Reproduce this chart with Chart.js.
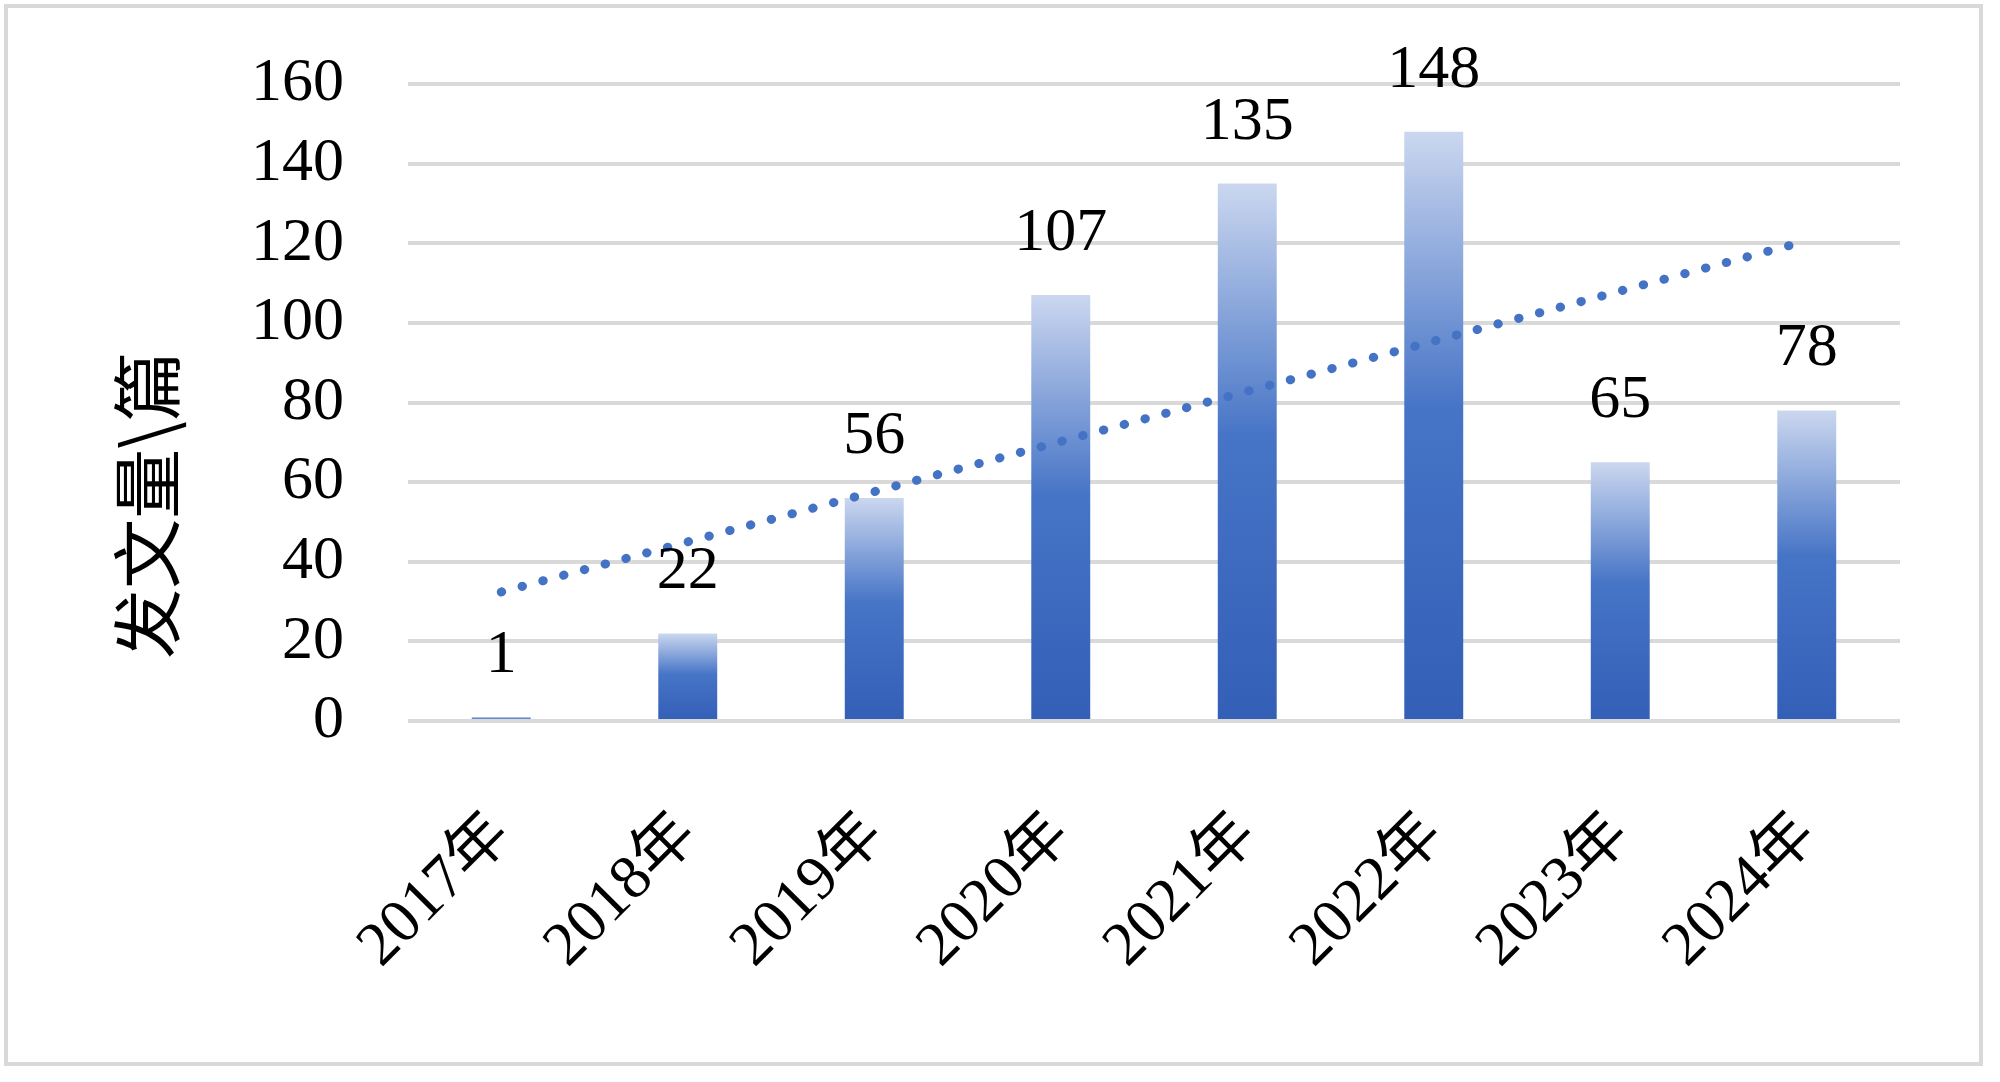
<!DOCTYPE html>
<html>
<head>
<meta charset="utf-8">
<script src="https://cdn.jsdelivr.net/npm/chart.js"></script>
<style>
  html, body { margin: 0; padding: 0; background: #fff; overflow: hidden; }
  canvas { display: block; }
</style>
</head>
<body>
<canvas id="paperChart" width="2000" height="1082"></canvas>
<script>
// data
const years = ['2017年', '2018年', '2019年', '2020年', '2021年', '2022年', '2023年', '2024年'];
const papers = [1, 22, 56, 107, 135, 148, 65, 78];
// linear trend line, end values
const trendLine = [32.4, null, null, null, null, null, null, 120.6];
const yTicks = [0, 20, 40, 60, 80, 100, 120, 140, 160];
const yTitle = '发文量\\篇';

const serif = "'Liberation Serif', 'Times New Roman', 'Noto Sans CJK SC', serif";

// bar gradient, light at the top of each bar, dark at the bottom
function barFill(c) {
    const chart = c.chart;
    if (!chart.chartArea || c.dataIndex === undefined) return '#4472c4';
    const y = chart.scales.y;
    const top = y.getPixelForValue(c.raw);
    const base = y.getPixelForValue(0);
    if (base - top < 1) return '#6f8fd2';
    const g = chart.ctx.createLinearGradient(0, top, 0, base);
    g.addColorStop(0, '#cbd7ef');
    g.addColorStop(0.47, '#4674c6');
    g.addColorStop(1, '#335fb7');
    return g;
}

// frame around the whole picture
const frame = {
    id: 'frame',
    beforeDraw(chart) {
        const ctx = chart.ctx;
        ctx.save();
        ctx.fillStyle = '#fff';
        ctx.fillRect(0, 0, chart.width, chart.height);
        ctx.strokeStyle = '#d9d9d9';
        ctx.lineWidth = 4;
        ctx.strokeRect(6, 6, 1975, 1058);
        ctx.restore();
    }
};

// value labels above bars + rotated y title
const labels = {
    id: 'labels',
    afterDatasetsDraw(chart) {
        const ctx = chart.ctx;
        const meta = chart.getDatasetMeta(1);
        ctx.save();
        ctx.fillStyle = '#000';
        ctx.font = '62px ' + serif;
        ctx.textAlign = 'center';
        ctx.textBaseline = 'alphabetic';
        meta.data.forEach((bar, i) => {
            ctx.fillText(String(papers[i]), bar.x, bar.y - 45);
        });
        const area = chart.chartArea;
        ctx.translate(area.left - 261, area.top + 421);
        ctx.rotate(-Math.PI / 2);
        ctx.font = "70px 'Noto Sans CJK SC', serif";
        ctx.textBaseline = 'middle';
        ctx.fillText(yTitle, 0, 0);
        ctx.restore();
    }
};

new Chart(document.getElementById('paperChart'), {
    type: 'bar',
    data: {
        labels: years,
        datasets: [{
            type: 'line',
            data: trendLine,
            spanGaps: true,
            borderColor: '#4472c4',
            borderWidth: 9,
            borderDash: [0.5, 21],
            borderCapStyle: 'round',
            pointRadius: 0,
            fill: false,
            order: 0
        }, {
            data: papers,
            backgroundColor: barFill,
            barPercentage: 0.316,
            categoryPercentage: 1,
            order: 1
        }]
    },
    options: {
        responsive: false,
        animation: false,
        devicePixelRatio: 1,
        layout: { autoPadding: false, padding: { left: 0, right: 100, top: 84, bottom: 0 } },
        plugins: { legend: { display: false }, tooltip: { enabled: false } },
        scales: {
            x: {
                grid: { display: false },
                border: { display: false },
                ticks: {
                    color: '#000',
                    font: { family: serif, size: 62 },
                    minRotation: 45,
                    maxRotation: 45,
                    padding: 70
                },
                afterFit(s) { s.height = 361; }
            },
            y: {
                min: 0,
                max: 160,
                afterBuildTicks(s) { s.ticks = yTicks.map(v => ({ value: v })); },
                grid: { color: '#d9d9d9', lineWidth: 4, drawTicks: false },
                border: { display: false },
                ticks: {
                    color: '#000',
                    font: { family: serif, size: 62 },
                    padding: 64
                },
                afterFit(s) {
                    s.width = 408;
                    s.paddingTop = 0;
                    s.paddingBottom = 0;
                }
            }
        }
    },
    plugins: [frame, labels]
});
</script>
</body>
</html>
